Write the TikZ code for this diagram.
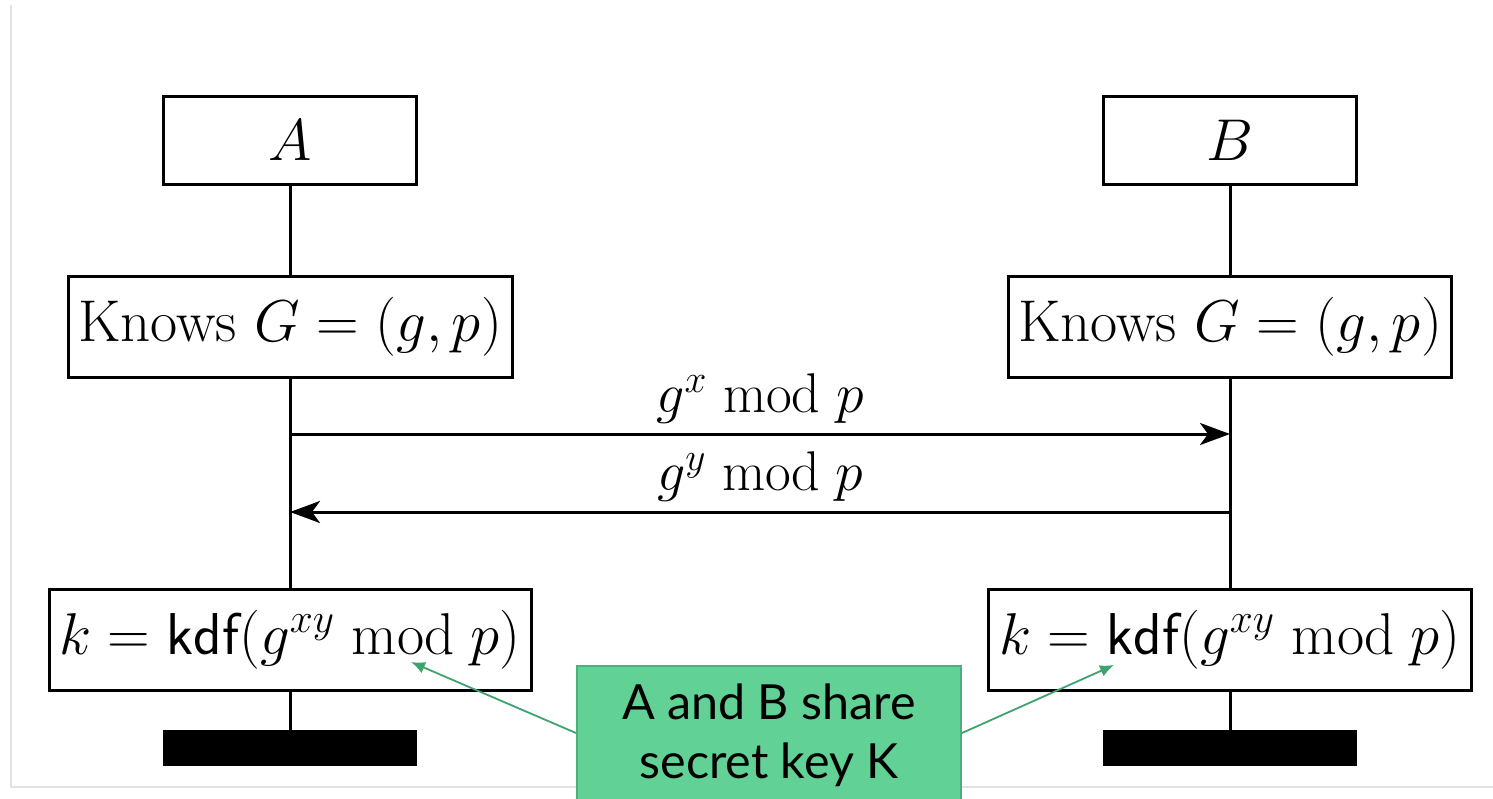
\RequirePackage{fix-cm}
\documentclass[tikz,border=0pt]{standalone}
\usepackage{fontspec}
\usepackage{amsmath}
\newfontfamily\calloutfont{Lato}
\usetikzlibrary{arrows.meta}
\definecolor{calloutfill}{HTML}{62D196}
\definecolor{calloutdraw}{HTML}{4DAF7F}
\definecolor{greenarrow}{HTML}{3FA36E}
\definecolor{framegray}{HTML}{E2E2E2}
\begin{document}
\begin{tikzpicture}[x=0.5pt,y=-0.5pt,
  mainfont/.style={font=\fontsize{29.5}{34}\selectfont},
  actor/.style={draw,line width=1.5pt,minimum width=126.5pt,minimum height=44pt,inner sep=0pt,mainfont},
  info/.style={draw,line width=1.5pt,minimum height=50.5pt,inner sep=0pt,mainfont},
  endbar/.style={fill=black,draw=black,line width=0.5pt,minimum width=126.5pt,minimum height=17.5pt,inner sep=0pt},
  lifeline/.style={line width=1.5pt},
  msg/.style={line width=1.5pt,-{Stealth[length=15pt,width=11pt,inset=4pt]}},
  msglabel/.style={font=\fontsize{28}{33}\selectfont,inner sep=0pt},
  callout/.style={fill=calloutfill,draw=calloutdraw,line width=1pt,minimum width=192pt,minimum height=69pt,inner sep=0pt,align=center,font=\calloutfont\fontsize{24.2}{29.5}\selectfont},
  pointer/.style={draw=greenarrow,line width=0.9pt,-{Latex[length=7pt,width=6pt]}}
]
\useasboundingbox (0,0) rectangle (1493,798);
% light frame
\draw[framegray,line width=0.6pt] (11,5) -- (11,787) -- (1493,787);

% actors
\node[actor] (a) at (290,140) {$A$};
\node[actor] (b) at (1230,140) {$B$};
\node[info,minimum width=222pt] (ga) at (290,326.5) {Knows $G=(g,p)$};
\node[info,minimum width=221.5pt] (gb) at (1230,326.5) {Knows $G=(g,p)$};
\node[info,minimum width=241pt] (ka) at (290,639.5) {$k=\mathsf{kdf}(g^{xy}\bmod p)$};
\node[info,minimum width=241.5pt] (kb) at (1230,639.5) {$k=\mathsf{kdf}(g^{xy}\bmod p)$};
\node[endbar] (ea) at (290,747.5) {};
\node[endbar] (eb) at (1230,747.5) {};

% lifelines
\draw[lifeline] (a) -- (ga);
\draw[lifeline] (ga) -- (ka);
\draw[lifeline] (ka) -- (ea);
\draw[lifeline] (b) -- (gb);
\draw[lifeline] (gb) -- (kb);
\draw[lifeline] (kb) -- (eb);

% messages
\coordinate (m1a) at (290,434);
\coordinate (m1b) at (1230,434);
\coordinate (m2a) at (290,512);
\coordinate (m2b) at (1230,512);
\draw[msg] (m1a) -- (m1b) node[msglabel,midway,above=4.5pt] (l1) {$g^{x}\bmod p$};
\draw[msg] (m2b) -- (m2a) node[msglabel,midway,above=4.5pt] (l2) {$g^{y}\bmod p$};

% callout
\node[callout] (c) at (769,735) {A and B share\\secret key K};
\coordinate (pa) at (411,662);
\coordinate (pb) at (1114,665);
\draw[pointer] (c.west |- 0,733) -- (pa);
\draw[pointer] (c.east |- 0,733) -- (pb);
\end{tikzpicture}
\end{document}
